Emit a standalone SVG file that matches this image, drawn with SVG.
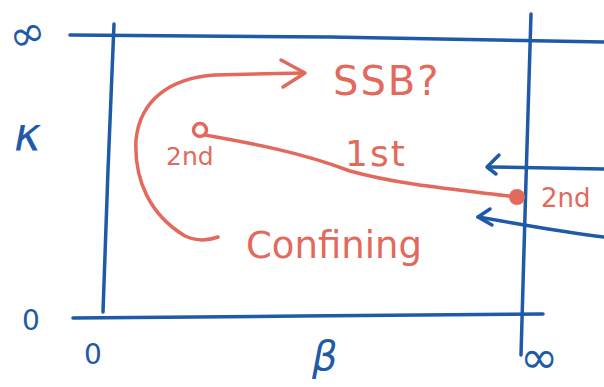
<svg xmlns="http://www.w3.org/2000/svg" width="604" height="387" viewBox="0 0 604 387">
  <style>
    .blue { stroke: #1f5aa6; stroke-width: 3.5; fill: none; stroke-linecap: round; stroke-linejoin: round; }
    .red { stroke: #e2695c; stroke-width: 3.5; fill: none; stroke-linecap: round; stroke-linejoin: round; }
    .bt { fill: #1f5aa6; font-family: "DejaVu Sans", sans-serif; }
    .rt { fill: #e2695c; font-family: "DejaVu Sans", sans-serif; }
  </style>
  <rect width="604" height="387" fill="#ffffff"/>

  <!-- axes frame -->
  <g id="frame">
    <path class="blue" d="M70 35 L330 37 L604 42"/>
    <path class="blue" d="M114 24 L108 170 L103 312"/>
    <path class="blue" d="M531 14 L526 180 L521 355"/>
    <path class="blue" d="M73 318 L300 316 L543 314"/>
  </g>

  <!-- axis labels -->
  <g id="labels">
    <text class="bt" x="8" y="48" font-size="44" transform="rotate(-20 28 32)">∞</text>
    <text class="bt" x="14" y="150" font-size="46" font-style="italic">κ</text>
    <text class="bt" x="22" y="330" font-size="28">0</text>
    <text class="bt" x="84" y="364" font-size="28">0</text>
    <text class="bt" x="312" y="370" font-size="40" font-style="italic">β</text>
    <text class="bt" x="520" y="373" font-size="46">∞</text>
  </g>

  <!-- phase points -->
  <g id="point-left">
    <circle class="red" cx="200" cy="130" r="6.5"/>
    <text class="rt" x="166" y="165" font-size="25">2nd</text>
  </g>
  <g id="point-right">
    <circle cx="517" cy="197" r="8" fill="#e2695c"/>
    <text class="rt" x="541" y="207" font-size="26">2nd</text>
  </g>

  <!-- transition lines and flows -->
  <g id="connectors">
    <path class="red" d="M205 135 C250 143 300 152 350 171 C400 185 460 190 517 197"/>
    <path class="red" d="M304 73 L215 75 C170 78 140 100 136 140 C134 180 150 215 185 236 C198 242 210 240 218 237"/>
    <path class="red" d="M281 60 L305 73 L283 87"/>
    <path class="blue" d="M604 169 L490 167"/>
    <path class="blue" d="M499 155 L487 167 L496 174"/>
    <path class="blue" d="M604 237 C560 232 520 224 478 217"/>
    <path class="blue" d="M490 209 L478 217 L492 225"/>
  </g>

  <g id="annotations">
    <text class="rt" x="333" y="95" font-size="40" letter-spacing="2">SSB?</text>
    <text class="rt" x="345" y="166" font-size="36" letter-spacing="2">1st</text>
    <text class="rt" x="246" y="258" font-size="37">Confining</text>
  </g>
</svg>
